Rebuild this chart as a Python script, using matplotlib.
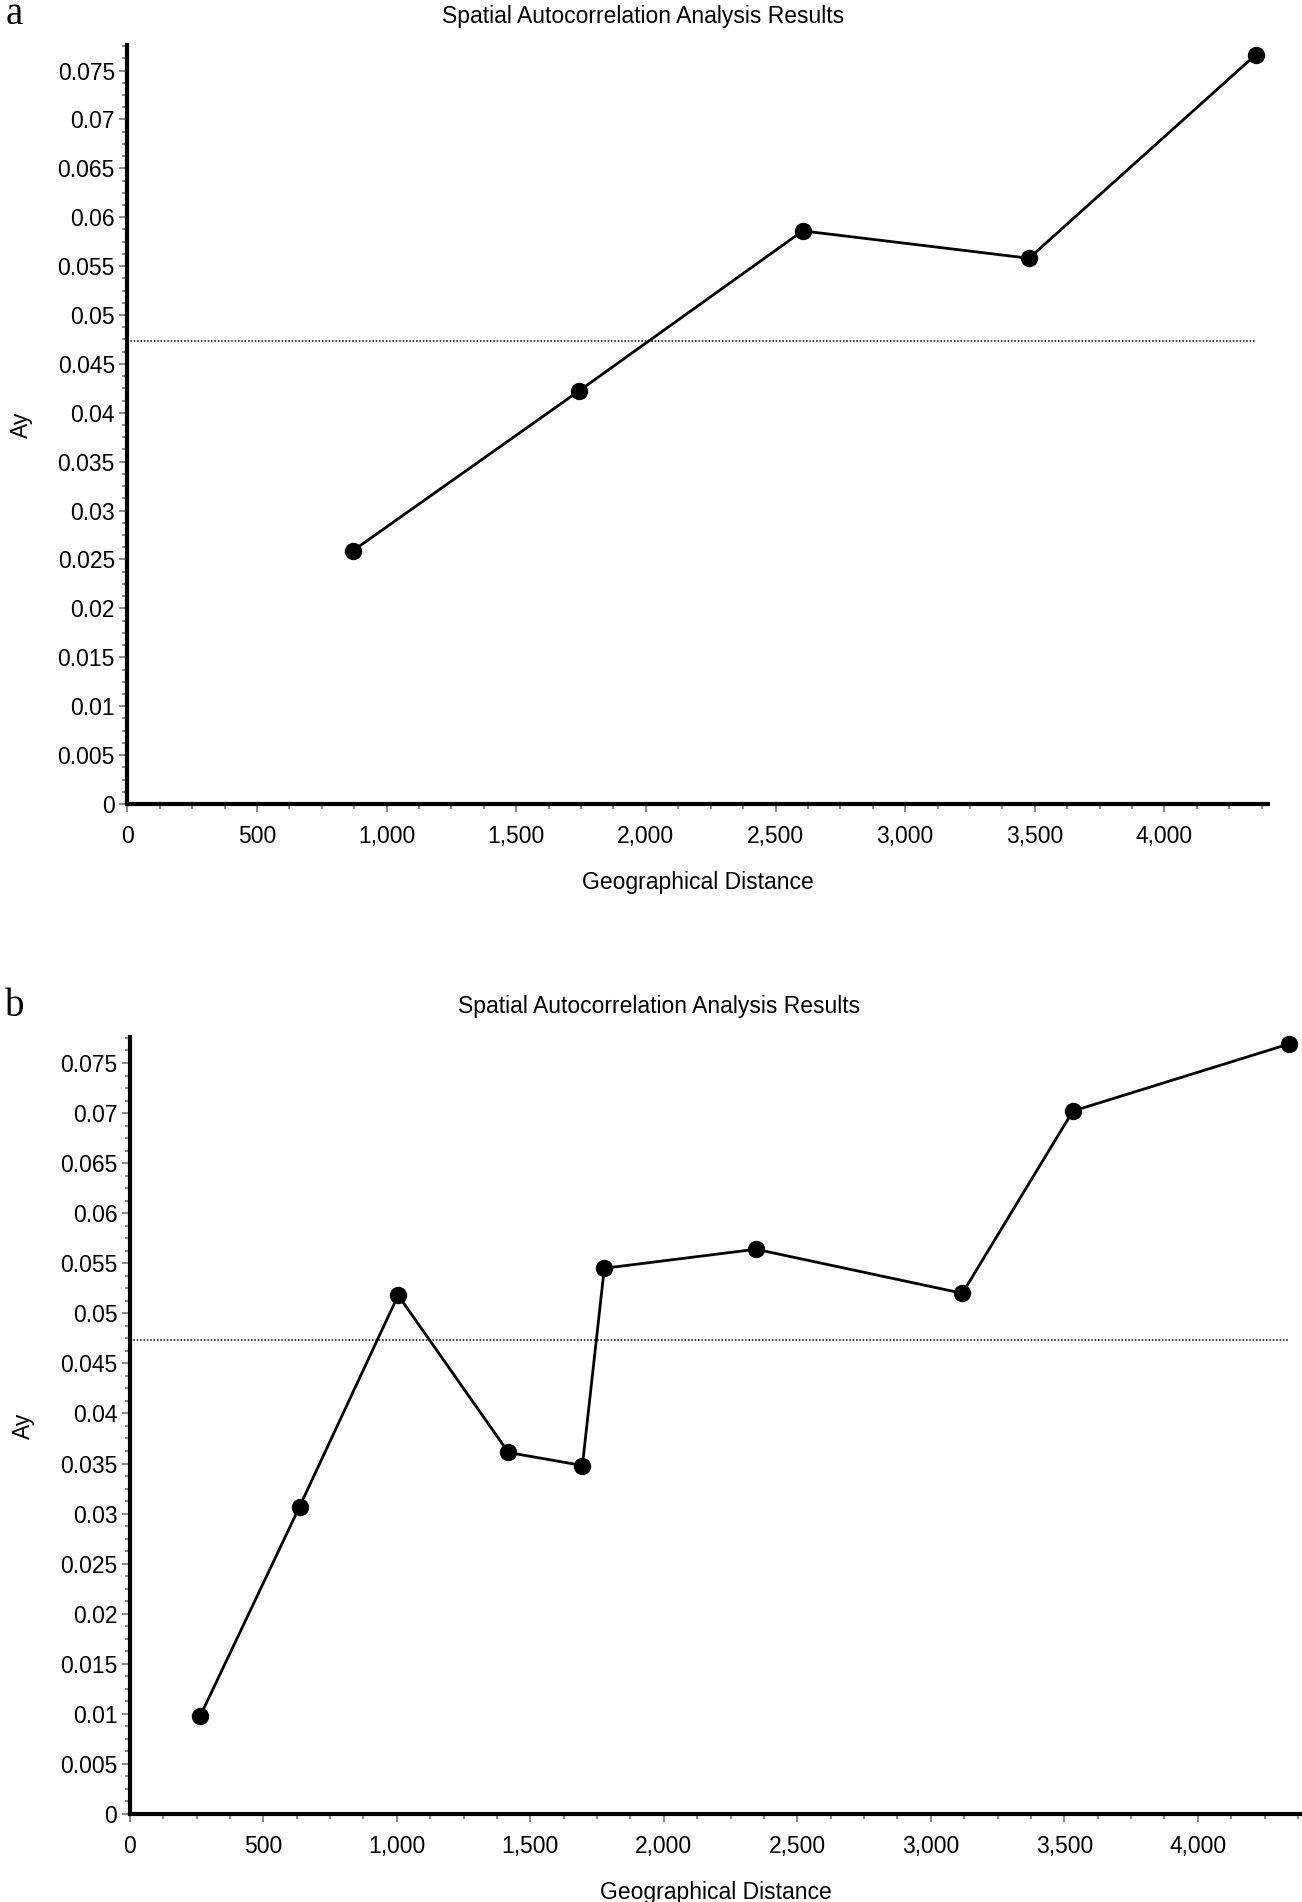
import numpy as np
import matplotlib
matplotlib.use('Agg')
import matplotlib.pyplot as plt
from matplotlib.ticker import MultipleLocator, FuncFormatter

# Данные панели a
dist_a = [870, 1740, 2605, 3478, 4352]
ay_a = [0.0259, 0.0422, 0.0586, 0.0558, 0.0766]

# Данные панели b
dist_b = [264, 636, 1005, 1418, 1695, 1777, 2345, 3118, 3532, 4341]
ay_b = [0.0098, 0.0307, 0.0518, 0.0361, 0.0348, 0.0545, 0.0564, 0.0520, 0.0702, 0.0769]

# Пунктирная линия (среднее значение)
mean_ay = 0.0473

title_text = 'Spatial Autocorrelation Analysis Results'
x_label = 'Geographical Distance'
y_label = 'Ay'
panel_labels = ['a', 'b']

plt.rcParams['font.family'] = ['Liberation Sans', 'DejaVu Sans']

fig = plt.figure(figsize=(13.02, 19.02), dpi=100)


def draw_panel(ax, x, y, x_end, xmax):
    # Линия с точками
    ax.plot(x, y, color='black', linewidth=2.0, marker='o',
            markersize=11.5, markerfacecolor='black', markeredgecolor='black',
            zorder=3, clip_on=False)
    # Пунктирная горизонтальная линия
    ax.plot([0, x_end], [mean_ay, mean_ay], color='black', linewidth=1.1,
            linestyle=(0, (1, 1.2)), zorder=2)

    ax.set_xlim(0, xmax)
    ax.set_ylim(0, 0.0776)

    # Оси: только левая и нижняя, толстые
    for s in ['top', 'right']:
        ax.spines[s].set_visible(False)
    for s in ['left', 'bottom']:
        ax.spines[s].set_linewidth(3.0)
        ax.spines[s].set_color('black')

    ax.xaxis.set_major_locator(MultipleLocator(500))
    ax.xaxis.set_minor_locator(MultipleLocator(125))
    ax.yaxis.set_major_locator(MultipleLocator(0.005))
    ax.yaxis.set_minor_locator(MultipleLocator(0.00125))

    ax.xaxis.set_major_formatter(FuncFormatter(lambda v, p: f'{v:,.0f}'))
    ax.yaxis.set_major_formatter(FuncFormatter(lambda v, p: f'{round(v, 4):g}'))

    ax.tick_params(axis='both', which='major', direction='out', length=6,
                   width=1.3, color='#808080', labelsize=16.5, labelcolor='black')
    ax.tick_params(axis='both', which='minor', direction='out', length=3.5,
                   width=1.3, color='#808080')
    ax.tick_params(axis='x', which='major', pad=9)
    ax.tick_params(axis='y', which='major', pad=3)

    ax.set_xlabel(x_label, fontsize=16.5, labelpad=17)
    ax.set_ylabel(y_label, fontsize=16.5, labelpad=18)


# Панель a
ax_a = fig.add_axes([0.0979, 0.5773, 0.876, 0.399])
draw_panel(ax_a, dist_a, ay_a, dist_a[-1], 4400)

# Панель b
ax_b = fig.add_axes([0.0997, 0.0463, 0.9003, 0.4085])
draw_panel(ax_b, dist_b, ay_b, dist_b[-1], 4390)

# Заголовки и буквы панелей
fig.text(0.494, 1 - 17 / 1902, title_text, fontsize=16.5, ha='center', va='center')
fig.text(0.506, 1 - 1006 / 1902, title_text, fontsize=16.5, ha='center', va='center')
fig.text(0.004, 1 - 24 / 1902, panel_labels[0], fontsize=28, family='Liberation Serif',
         ha='left', va='baseline')
fig.text(0.004, 1 - 1016 / 1902, panel_labels[1], fontsize=28, family='Liberation Serif',
         ha='left', va='baseline')

plt.savefig('out.png', dpi=100)
